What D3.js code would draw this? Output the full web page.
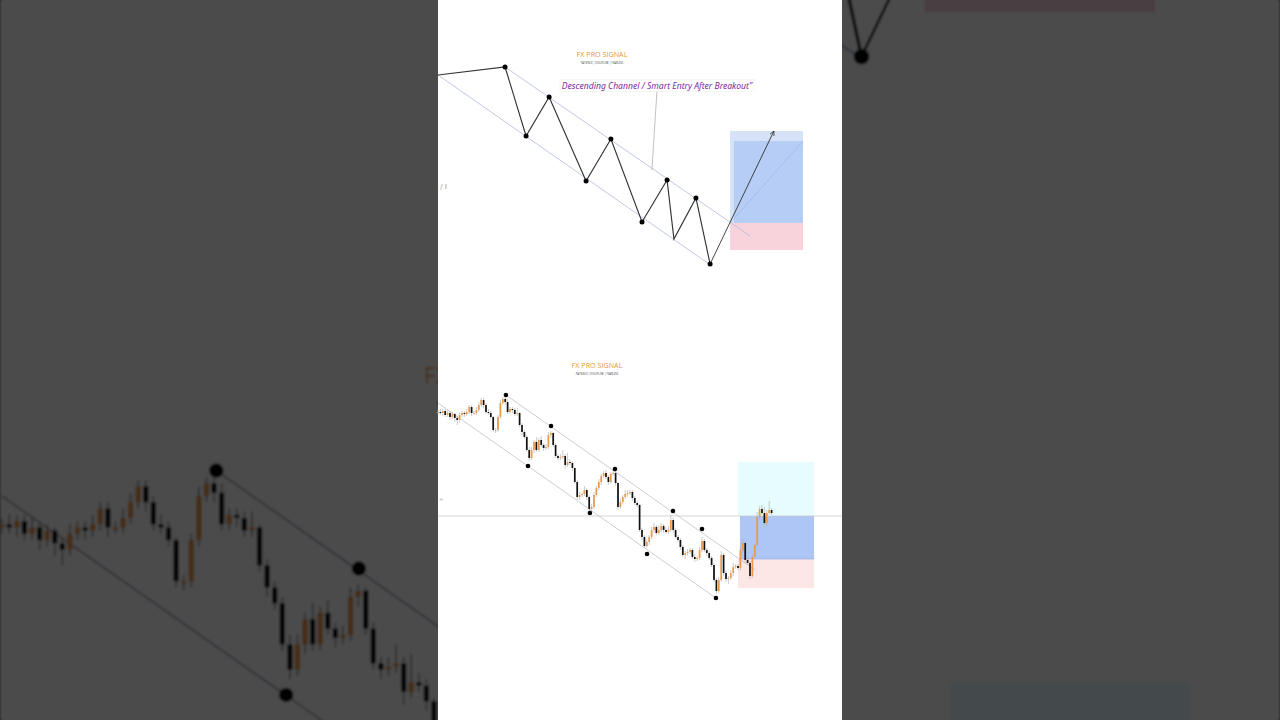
<!DOCTYPE html>
<html>
<head>
<meta charset="utf-8">
<script src="https://cdn.jsdelivr.net/npm/d3@7"></script>
<style>
  html, body { margin: 0; padding: 0; background: #4b4b4b; overflow: hidden; }
  svg { display: block; }
</style>
</head>
<body>
<script>
// ---------------- DATA ----------------
// Top chart: schematic zig-zag of a descending channel
const zigT   = [0, 33.2, 43.6, 55, 73.3, 85.6, 101, 113.4, 116.8, 127.7, 134.7];
const zigP   = [235, 243, 174, 213, 129, 171, 88, 130, 71, 112, 46];
const zigDot = [false, true, true, true, true, true, true, true, false, true, true];
const arrowEnd = [166.3, 179];
const topUpperChannel = [[33.2, 243], [154.5, 74]];
const topLowerChannel = [[0, 235], [135.6, 44]];
const topCallout = [[108.4, 219], [105.9, 140]];
const topTargetZone = [144.6, 180.7, 87, 179];   // t0, t1, pLow, pHigh
const topTargetInner = [146.5, 180.7, 87, 169];
const topStopZone = [144.6, 180.7, 60, 87];
const topGuide = [[144.6, 87], [180.7, 169]];

// Bottom chart: candle closes (price units)
const closes = [
  208,207,209,205,207,203,206,202,200,205,
  207,206,208,213,207,207,210,215,220,215,
  208,207,203,190,190,203,217,221,218,208,
  211,210,206,207,195,188,183,170,162,170,
  178,170,180,175,172,173,185,187,175,164,
  162,163,164,155,158,157,152,138,123,125,
  126,130,123,111,113,125,132,138,144,147,
  143,138,146,147,137,113,118,123,126,127,
  128,122,117,115,90,83,74,78,83,90,
  93,87,90,94,90,88,90,100,90,83,
  80,73,65,67,68,70,63,61,62,70,
  79,70,67,62,55,40,29,40,65,47,
  41,42,47,53,54,52,70,77,60,57,
  44,63,75,103,111,107,97,107,110,107
];
const firstOpen = 207;
const wickUp = [
  2,3,2,2,3,2,2,1,2,3,
  2,2,3,2,2,2,3,3,2,2,
  2,3,2,1,2,2,3,2,2,3,
  2,2,2,5,1,2,2,2,3,3,
  2,5,2,4,2,3,3,2,1,2,
  2,3,6,2,9,3,2,1,2,3,
  2,4,2,2,3,3,2,3,2,2,
  3,2,2,3,2,1,3,2,4,3,
  2,2,2,2,1,2,2,3,2,3,
  4,2,5,3,2,3,4,5,2,2,
  2,2,2,2,3,2,2,3,2,3,
  4,2,2,2,2,2,2,3,4,2,
  3,2,3,4,2,2,3,4,2,3,
  2,3,2,5,3,4,6,3,9,2
];
const wickDn = [
  2,2,3,2,2,3,2,4,5,2,
  2,3,2,2,3,2,2,2,2,3,
  2,2,2,2,3,2,2,2,3,2,
  2,3,2,2,2,3,2,2,3,2,
  3,2,2,2,3,2,2,3,2,2,
  3,2,2,4,2,2,3,2,3,3,
  2,2,3,3,2,2,2,2,3,2,
  2,3,2,2,3,3,2,2,2,3,
  2,3,2,2,2,3,2,2,3,2,
  3,2,2,2,3,2,2,2,3,2,
  2,3,2,4,3,2,2,3,2,2,
  2,2,3,2,2,2,3,2,2,3,
  3,5,2,3,2,2,2,2,3,2,
  3,2,2,2,3,2,2,3,2,2
];
const pivotI = [28.3, 37.5, 47.1, 63.3, 73.75, 87.1, 97.9, 110, 115.8];
const pivotP = [225, 154, 194, 107, 151, 66, 109, 91, 22];
const botUpperChannel = [[28.3, 225], [132.1, 50]];
const botLowerChannel = [[0, 217], [115.8, 22]];
const entryLevel = 104;
const botTargetZone = [125, 156.7, 104, 158];
const botEntryZone  = [125.8, 156.7, 61, 104];
const botStopZone   = [125, 156.7, 32, 61];

const titleText = "FX PRO SIGNAL";
const subtitleText = "PATIENCE  |  DISCIPLINE  |  FEARLESS";
const labelText = "Descending Channel / Smart Entry After Breakout\u201D";

// ---------------- DRAW ----------------
const W = 1280, H = 720;
const PX0 = 438, PX1 = 842;

const svg = d3.select("body").append("svg").attr("width", W).attr("height", H);
const defs = svg.append("defs");
const blur = defs.append("filter").attr("id", "bgblur")
  .attr("filterUnits", "userSpaceOnUse").attr("x", 0).attr("y", 0).attr("width", W).attr("height", H);
blur.append("feGaussianBlur").attr("stdDeviation", 1.3);
const clip = defs.append("clipPath").attr("id", "sides");
clip.append("rect").attr("x", 0).attr("y", 0).attr("width", PX0).attr("height", H);
clip.append("rect").attr("x", PX1).attr("y", 0).attr("width", W - PX1).attr("height", H);

function drawPanel(g, isBg) {
  g.append("rect").attr("x", PX0).attr("y", 0).attr("width", PX1 - PX0).attr("height", H).attr("fill", "#fff");

  // ===== TOP CHART =====
  const xT = d3.scaleLinear().domain([0, 200]).range([PX0, PX1]);
  const yT = d3.scaleLinear().domain([0, 250]).range([310, 60]);
  const lineT = d3.line().x(d => xT(d[0])).y(d => yT(d[1]));

  const top = g.append("g");
  function zone(sel, z, fill) {
    sel.append("rect").attr("x", xT(z[0])).attr("width", xT(z[1]) - xT(z[0]))
      .attr("y", yT(z[3])).attr("height", yT(z[2]) - yT(z[3])).attr("fill", fill);
  }
  zone(top, topTargetZone, "#d6e2f8");
  zone(top, topTargetInner, "#b6cdf5");
  zone(top, topStopZone, "#f8d3dc");
  top.append("path").attr("d", lineT(topGuide)).attr("stroke", "#9db4e4").attr("stroke-width", 0.6).attr("fill", "none");

  top.append("path").attr("d", lineT(topUpperChannel)).attr("stroke", "#b0bade").attr("stroke-width", 0.8).attr("fill", "none");
  top.append("path").attr("d", lineT(topLowerChannel)).attr("stroke", "#b0bade").attr("stroke-width", 0.8).attr("fill", "none");
  top.append("path").attr("d", lineT(topCallout)).attr("stroke", "#a8a8a8").attr("stroke-width", 0.7).attr("fill", "none");

  const zig = zigT.map((t, i) => [t, zigP[i]]);
  top.append("path").attr("d", lineT(zig)).attr("stroke", "#333").attr("stroke-width", 1.15).attr("fill", "none");
  const last = zig[zig.length - 1];
  top.append("path").attr("d", lineT([last, arrowEnd])).attr("stroke", "#3a3a3a").attr("stroke-width", 0.95).attr("fill", "none");
  // arrow head
  const ax = xT(arrowEnd[0]), ay = yT(arrowEnd[1]);
  const ang = Math.atan2(ay - yT(last[1]), ax - xT(last[0]));
  const hl = 5, ha = 0.45;
  top.append("path")
    .attr("d", `M${ax - hl*Math.cos(ang-ha)},${ay - hl*Math.sin(ang-ha)}L${ax},${ay}L${ax - hl*Math.cos(ang+ha)},${ay - hl*Math.sin(ang+ha)}`)
    .attr("stroke", "#333").attr("stroke-width", 0.8).attr("fill", "none");

  top.selectAll("circle.zd").data(zig.filter((d, i) => zigDot[i])).join("circle")
    .attr("cx", d => xT(d[0])).attr("cy", d => yT(d[1])).attr("r", 2.5).attr("fill", "#000");

  // label
  const lx = xT(topCallout[0][0]);
  top.append("rect").attr("x", lx - 97).attr("y", 79.5).attr("width", 194).attr("height", 12)
    .attr("fill", "#fff").attr("stroke", "#ececec").attr("stroke-width", 0.5);
  if (!isBg) {
    top.append("text").attr("x", lx).attr("y", 88.5).attr("text-anchor", "middle")
      .attr("font-family", "'Noto Sans', sans-serif").attr("font-style", "italic")
      .attr("font-size", 8.6).attr("fill", "#7e2aa0").text(labelText);
    top.append("text").attr("x", 443.5).attr("y", 188.5).attr("text-anchor", "middle")
      .attr("font-family", "'DejaVu Sans', sans-serif").attr("font-size", 7).attr("fill", "#999").text("/ I");
  }

  function title(sel, cx, by) {
    const specs = [
      { txt: titleText, y: by, size: 7.2, fill: "#e99a2c", part: "FX" },
      { txt: subtitleText, y: by + 7.3, size: 2.6, fill: "#444", part: "PATIENCE" }
    ];
    specs.forEach(s => {
      const t = sel.append("text").attr("y", s.y)
        .attr("font-family", "'Open Sans', sans-serif").attr("font-size", s.size).attr("fill", s.fill);
      if (!isBg) {
        t.attr("x", cx).attr("text-anchor", "middle").text(s.txt);
      } else {
        // enlarged background copy: only its left start shows beside the panel
        t.text(s.txt);
        const w = t.node().getComputedTextLength();
        t.attr("x", cx - w / 2).attr("text-anchor", "start").text(s.part);
      }
    });
  }
  if (!isBg) title(top, 602, 56.5);

  // ===== BOTTOM CHART =====
  const xB = d3.scaleLinear().domain([0, closes.length - 1]).range([PX0, PX0 + 2.4 * (closes.length - 1)]);
  const yB = d3.scaleLinear().domain([0, 250]).range([620, 370]);
  const lineB = d3.line().x(d => xB(d[0])).y(d => yB(d[1]));
  const bot = g.append("g");

  function zoneB(z, fill) {
    return bot.append("rect").attr("x", xB(z[0])).attr("width", xB(z[1]) - xB(z[0]))
      .attr("y", yB(z[3])).attr("height", yB(z[2]) - yB(z[3])).attr("fill", fill);
  }
  zoneB(botTargetZone, "#e7fcfd");
  zoneB(botStopZone, "#fde7e5");
  zoneB(botEntryZone, "#adc6f6");
  bot.append("line").attr("x1", xB(botEntryZone[0])).attr("x2", xB(botEntryZone[1]))
    .attr("y1", yB(botEntryZone[2])).attr("y2", yB(botEntryZone[2])).attr("stroke", "#8aa6e6").attr("stroke-width", 0.6);

  bot.append("line").attr("x1", PX0).attr("x2", PX1).attr("y1", yB(entryLevel)).attr("y2", yB(entryLevel))
    .attr("stroke", "#c4c4c4").attr("stroke-width", 0.7);

  bot.append("path").attr("d", lineB(botUpperChannel)).attr("stroke", "#b4b8c8").attr("stroke-width", 0.7).attr("fill", "none");
  bot.append("path").attr("d", lineB(botLowerChannel)).attr("stroke", "#b4b8c8").attr("stroke-width", 0.7).attr("fill", "none");

  const candles = closes.map((c, i) => {
    const o = i === 0 ? firstOpen : closes[i - 1];
    return { i, o, c, h: Math.max(o, c) + wickUp[i], l: Math.min(o, c) - wickDn[i] };
  });
  const cg = bot.append("g");
  cg.selectAll("line.wick").data(candles).join("line")
    .attr("x1", d => xB(d.i)).attr("x2", d => xB(d.i))
    .attr("y1", d => yB(d.h)).attr("y2", d => yB(d.l))
    .attr("stroke", "#a9a9a9").attr("stroke-width", 0.6);
  cg.selectAll("rect.body").data(candles).join("rect")
    .attr("x", d => xB(d.i) - 0.85).attr("width", 1.7)
    .attr("y", d => yB(Math.max(d.o, d.c)))
    .attr("height", d => Math.max(0.8, Math.abs(yB(d.o) - yB(d.c))))
    .attr("fill", d => d.c >= d.o ? "#ec9a48" : "#111");

  bot.selectAll("circle.pd").data(pivotI.map((t, i) => [t, pivotP[i]])).join("circle")
    .attr("cx", d => xB(d[0])).attr("cy", d => yB(d[1])).attr("r", 2.3).attr("fill", "#000");

  if (!isBg) {
    bot.append("text").attr("x", 439).attr("y", 501).attr("font-family", "'DejaVu Sans', sans-serif")
      .attr("font-size", 5).attr("fill", "#aaa").text("=");
  }

  title(bot, 597, 367.5);
}

// background: enlarged, blurred, darkened copy of the panel (only visible at the sides)
const bgClip = svg.append("g").attr("clip-path", "url(#sides)");
const bgOuter = bgClip.append("g").attr("filter", "url(#bgblur)");
bgOuter.append("rect").attr("width", W).attr("height", H).attr("fill", "#fff");
const bgInner = bgOuter.append("g").attr("transform", "translate(640,360) scale(3.16) translate(-640,-360)");
drawPanel(bgInner, true);
bgClip.append("rect").attr("width", W).attr("height", H).attr("fill", "#000").attr("opacity", 0.705);

// foreground panel
drawPanel(svg.append("g"), false);
</script>
</body>
</html>
